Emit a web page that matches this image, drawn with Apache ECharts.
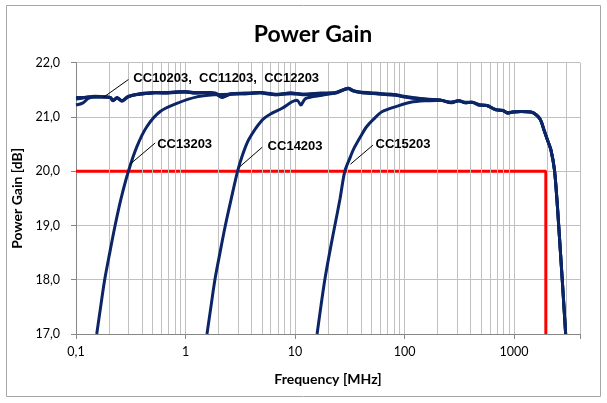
<!DOCTYPE html>
<html><head><meta charset="utf-8">
<script src="https://cdn.jsdelivr.net/npm/echarts@6/dist/echarts.min.js"></script>
<style>html,body{margin:0;padding:0;background:#fff}#c{width:607px;height:403px}</style>
</head><body><div id="c"></div><script>
// ---- data (frequency in MHz, gain in dB) ----
const flatFreq = [0.1,0.116,0.129,0.149,0.184,0.205,0.218,0.237,0.263,0.299,0.346,0.428,0.528,0.652,0.804,1.0,1.23,1.52,1.87,2.17,2.56,3.52,4.8,6.6,9.1,12.45,17.1,23.4,27.3,30.7,33.8,39.7,54.6,70,83,98,118,140,180,214,265,313,358,413,476,565,681,789,877,970,1160,1425,1590,1740,1874,2040,2173,2338,2464,2553,2754,2959];
const cc10203 = [21.36,21.36,21.37,21.37,21.37,21.36,21.30,21.35,21.29,21.37,21.41,21.43,21.45,21.44,21.46,21.46,21.44,21.45,21.43,21.36,21.42,21.43,21.45,21.41,21.44,21.42,21.43,21.44,21.50,21.53,21.48,21.45,21.43,21.42,21.41,21.37,21.35,21.33,21.32,21.31,21.26,21.30,21.26,21.27,21.22,21.21,21.13,21.12,21.07,21.09,21.10,21.09,21.04,20.95,20.76,20.55,20.39,20.02,19.47,19.01,18.00,17.00];
const cc11203 = [21.22,21.26,21.34,21.37,21.37,21.36,21.31,21.35,21.30,21.37,21.41,21.43,21.44,21.44,21.45,21.46,21.44,21.45,21.43,21.37,21.42,21.43,21.44,21.41,21.43,21.41,21.43,21.44,21.49,21.52,21.48,21.45,21.43,21.41,21.40,21.37,21.35,21.33,21.32,21.31,21.27,21.30,21.26,21.27,21.22,21.21,21.13,21.12,21.07,21.09,21.10,21.09,21.04,20.95,20.76,20.55,20.39,20.02,19.47,19.01,18.00,17.00];
const cc12203 = [21.33,21.35,21.37,21.38,21.37,21.36,21.30,21.36,21.30,21.38,21.41,21.44,21.45,21.45,21.46,21.47,21.45,21.45,21.44,21.37,21.43,21.44,21.45,21.42,21.44,21.42,21.44,21.45,21.50,21.53,21.49,21.46,21.44,21.42,21.41,21.38,21.36,21.34,21.32,21.31,21.27,21.30,21.27,21.27,21.23,21.21,21.14,21.12,21.08,21.09,21.10,21.09,21.04,20.95,20.77,20.55,20.39,20.03,19.48,19.01,18.00,17.00];
const cc13203Freq = [0.1546,0.1679,0.1827,0.2034,0.2275,0.2581,0.301,0.359,0.443,0.587,0.834,1.27,1.87,2.6];
const cc13203Gain = [17.0,17.5,18.0,18.5,19.0,19.5,20.0,20.45,20.82,21.10,21.25,21.37,21.41,21.42];
const cc14203Freq = [1.57,1.706,1.855,2.065,2.31,2.62,2.99,3.28,3.77,5.0,6.17,7.62,9.4,10.45,11.3,12.45,17.7,22];
const cc14203Gain = [17.0,17.5,18.0,18.5,19.0,19.5,20.0,20.27,20.58,20.94,21.07,21.16,21.28,21.31,21.22,21.34,21.40,21.43];
const cc15203Freq = [15.9,17.2,18.7,20.7,23.1,25.8,28.5,32.1,34.5,39.7,45,52.2,62.7,85.9,113.7,162,214];
const cc15203Gain = [17.0,17.5,18.0,18.5,19.0,19.5,20.0,20.27,20.42,20.64,20.82,20.96,21.1,21.2,21.27,21.30,21.31];
const specFreq = [0.1,1950,1950];
const specGain = [20,20,17];
const minorGridFreqs = [0.2,0.3,0.4,0.5,0.6,0.7,0.8,0.9,2,3,4,5,6,7,8,9,20,30,40,50,60,70,80,90,200,300,400,500,600,700,800,900,2000,3000];
const yMin = 17, yMax = 22, yStep = 1;
const xMin = 0.1, xMax = 4000;
// annotation anchors (data coords): [labelF, labelG, leaderFromF, leaderFromG, leaderToF, leaderToG, text]
const notes = [
  [0.334,21.71,0.301,21.69,0.1777,21.36,'CC10203,  CC11203,  CC12203'],
  [0.551,20.49,0.528,20.52,0.312,20.13,'CC13203'],
  [5.62,20.46,5.0,20.44,3.12,20.08,'CC14203'],
  [54.4,20.49,51.4,20.48,32.1,20.13,'CC15203']
];
// ----------------------------------------------
const zip = (a,b) => a.map((v,i)=>[v,b[i]]);
const navy = '#0b2566';
const chart = echarts.init(document.getElementById('c'), null, {renderer:'canvas'});
function curve(name, data){
  return {name, type:'line', data, showSymbol:false, symbol:'none', smooth:0.3, z:5,
    lineStyle:{color:navy, width:3}, itemStyle:{color:navy}, animation:false};
}
const lblFont = 'Lato, "Open Sans", sans-serif';
chart.setOption({
  animation:false,
  backgroundColor:'#fff',
  title:{text:'Power Gain', left:308, top:18, textAlign:'center',
    textStyle:{fontFamily:lblFont, fontWeight:'bold', fontSize:23, color:'#000'}},
  grid:{left:76, top:62.7, right:27, bottom:69},
  xAxis:{type:'log', logBase:10, min:xMin, max:xMax,
    axisLine:{show:true, lineStyle:{color:'#868686', width:1}},
    axisTick:{show:true, length:5, lineStyle:{color:'#868686'}},
    axisLabel:{fontFamily:lblFont, fontSize:12.5, color:'#000', margin:11,
      formatter:v=>{ const l=Math.log10(v); if(Math.abs(l-Math.round(l))>1e-6) return ''; return String(+v.toPrecision(6)).replace('.',','); }},
    splitLine:{show:true, lineStyle:{color:'#c0c0c0', width:1}},
    name:'Frequency [MHz]', nameLocation:'middle', nameGap:38,
    nameTextStyle:{fontFamily:lblFont, fontWeight:'bold', fontSize:14, color:'#000'}},
  yAxis:{type:'value', min:yMin, max:yMax, interval:yStep,
    axisLine:{show:true, lineStyle:{color:'#868686', width:1}},
    axisTick:{show:true, length:5, lineStyle:{color:'#868686'}},
    axisLabel:{fontFamily:lblFont, fontSize:12.5, color:'#000', margin:16,
      formatter:v=>v.toFixed(1).replace('.',',')},
    splitLine:{show:true, lineStyle:{color:'#c0c0c0', width:1}},
    name:'Power Gain [dB]', nameLocation:'middle', nameGap:51, nameRotate:90,
    nameTextStyle:{fontFamily:lblFont, fontWeight:'bold', fontSize:14, color:'#000'}},
  series:[
    {name:'grid', type:'line', data:[], z:1, silent:true,
      markLine:{silent:true, symbol:['none','none'], label:{show:false}, animation:false,
        lineStyle:{color:'#c0c0c0', type:'solid', width:1},
        data:minorGridFreqs.map(f=>({xAxis:f}))}},
    {name:'spec', type:'line', data:zip(specFreq,specGain), showSymbol:false, symbol:'none', z:4,
      lineStyle:{color:'#ff0000', width:3}, animation:false},
    curve('CC10203', zip(flatFreq, cc10203)),
    curve('CC11203', zip(flatFreq, cc11203)),
    curve('CC12203', zip(flatFreq, cc12203)),
    curve('CC13203', zip(cc13203Freq, cc13203Gain)),
    curve('CC14203', zip(cc14203Freq, cc14203Gain)),
    curve('CC15203', zip(cc15203Freq, cc15203Gain))
  ]
});
const px = (f,g) => chart.convertToPixel({gridIndex:0},[f,g]);
const gfx = [{type:'rect', shape:{x:6.5,y:5.5,width:594,height:391}, style:{fill:null, stroke:'#a6a6a6', lineWidth:1}, silent:true, z:0}];
notes.forEach(n=>{
  const lp = px(n[0],n[1]), a = px(n[2],n[3]), b = px(n[4],n[5]);
  gfx.push({type:'line', shape:{x1:a[0],y1:a[1],x2:b[0],y2:b[1]}, style:{stroke:'#000', lineWidth:1}, z:10, silent:true});
  gfx.push({type:'text', x:lp[0], y:lp[1], style:{text:n[6], fill:'#000', font:'bold 13px "Liberation Sans", Arial, sans-serif', textVerticalAlign:'middle', textAlign:'left'}, z:10, silent:true});
});
chart.setOption({graphic:gfx});
</script></body></html>
